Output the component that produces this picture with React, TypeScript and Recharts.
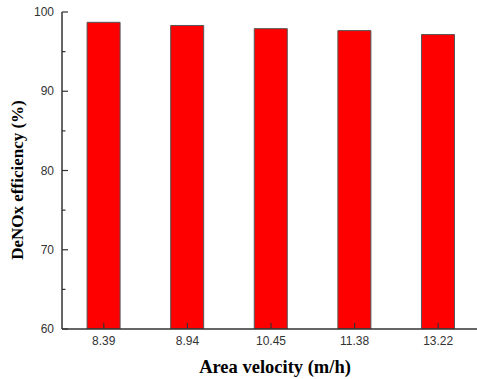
import { BarChart, Bar, XAxis, YAxis } from 'recharts';

const velocities = ['8.39', '8.94', '10.45', '11.38', '13.22'];
const efficiency = [98.7, 98.3, 97.9, 97.65, 97.15];
const yTicks = [60, 65, 70, 75, 80, 85, 90, 95, 100];

const chartData = velocities.map((v, i) => ({ velocity: v, efficiency: efficiency[i] }));

const axisColor = '#333';
const tickFont = '"Liberation Sans", Arial, sans-serif';
const labelFont = '"Liberation Serif", "Times New Roman", serif';

// ticks point into the plot, so draw them ourselves
const YTick = (props: any) => {
  const { x, y, payload } = props;
  const major = payload.value % 10 === 0;
  const ax = x + 8;
  return (
    <g>
      <line x1={ax} x2={ax + (major ? 6 : 3.5)} y1={y} y2={y} stroke={axisColor} strokeWidth={1.2} />
      {major && (
        <text x={x} y={y} dy={4} textAnchor="end" fontSize={12} fill="#333" fontFamily={tickFont}>
          {payload.value}
        </text>
      )}
    </g>
  );
};

const XTick = (props: any) => {
  const { x, y, payload } = props;
  const ay = y - 6;
  return (
    <g>
      <line x1={x} x2={x} y1={ay} y2={ay - 6} stroke={axisColor} strokeWidth={1.2} />
      <text x={x} y={y} dy={10} textAnchor="middle" fontSize={12} fill="#333" fontFamily={tickFont}>
        {payload.value}
      </text>
    </g>
  );
};

const XLabel = () => (
  <text x={275} y={373} textAnchor="middle" fontFamily={labelFont} fontWeight="bold" fontSize={18.5} fill="#000">
    Area velocity (m/h)
  </text>
);

const YLabel = () => (
  <text
    transform="translate(23,180) rotate(-90)"
    textAnchor="middle"
    fontFamily={labelFont}
    fontWeight="bold"
    fontSize={17}
    fill="#000"
  >
    DeNOx efficiency (%)
  </text>
);

export default function App() {
  return (
    <div style={{ position: 'absolute', left: 0, top: 0, width: 477, height: 379, overflow: 'hidden', background: '#fff' }}>
      <BarChart
        width={500}
        height={379}
        data={chartData}
        margin={{ top: 12, right: 20, bottom: 0, left: 0 }}
        barCategoryGap="30%"
      >
        <XAxis
          dataKey="velocity"
          height={50}
          tickSize={0}
          tickMargin={6}
          tick={<XTick />}
          axisLine={{ stroke: axisColor, strokeWidth: 1.5 }}
          label={<XLabel />}
        />
        <XAxis
          xAxisId="top"
          orientation="top"
          dataKey="velocity"
          height={0}
          tick={false}
          tickLine={false}
          axisLine={{ stroke: axisColor, strokeWidth: 1.5 }}
        />
        <YAxis
          width={62}
          domain={[60, 100]}
          ticks={yTicks}
          interval={0}
          allowDataOverflow
          tickSize={0}
          tickMargin={8}
          tick={<YTick />}
          axisLine={{ stroke: axisColor, strokeWidth: 1.5 }}
          label={<YLabel />}
        />
        <Bar dataKey="efficiency" fill="#ff0000" stroke="#555" strokeWidth={1} isAnimationActive={false} />
      </BarChart>
    </div>
  );
}
